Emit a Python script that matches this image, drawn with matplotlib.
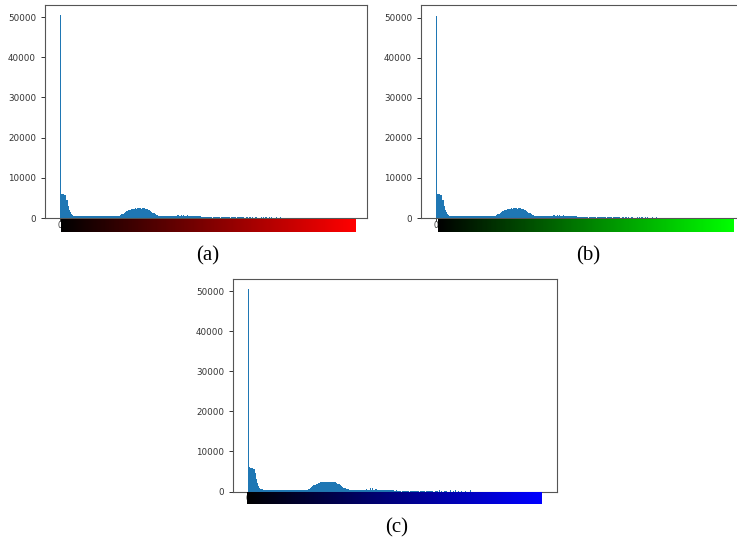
import matplotlib
matplotlib.use("Agg")
import matplotlib.pyplot as plt
import numpy as np
from matplotlib.colors import LinearSegmentedColormap

# pixel counts per intensity level (0..255)
pixel_counts = [
    50500, 6000, 5950, 5900, 5850, 5700, 4600, 3000, 2000, 1400, 900, 650, 500, 450, 430, 420,
    420, 410, 420, 400, 410, 420, 410, 400, 420, 410, 400, 410, 420, 410, 400, 410,
    420, 410, 400, 410, 420, 410, 400, 410, 420, 410, 420, 400, 410, 420, 410, 400,
    420, 430, 450, 480, 550, 700, 900, 1100, 1300, 1500, 1650, 1800, 1950, 2050, 2150, 2250,
    2300, 2350, 2400, 2350, 2400, 2450, 2400, 2350, 2400, 2450, 2400, 2350, 2250, 2100, 1950, 1750,
    1550, 1350, 1150, 950, 800, 650, 550, 500, 470, 450, 440, 430, 450, 440, 420, 430,
    440, 420, 430, 450, 420, 430, 440, 700, 450, 430, 800, 450, 750, 440, 420, 650,
    430, 410, 420, 400, 410, 420, 400, 390, 410, 400, 380, 390, 370, 300, 250, 240,
    230, 250, 220, 240, 230, 0, 220, 210, 230, 220, 200, 210, 0, 200, 220, 210,
    190, 200, 180, 200, 190, 0, 180, 190, 170, 180, 0, 170, 160, 180, 170, 160,
    150, 0, 0, 180, 150, 0, 300, 0, 160, 0, 0, 200, 150, 0, 0, 0,
    250, 0, 180, 0, 300, 0, 0, 150, 0, 200, 0, 0, 0, 180, 0, 0,
    0, 250, 0, 0, 0, 0, 0, 0, 0, 0, 0, 0, 0, 0, 0, 0,
    0, 0, 0, 0, 0, 0, 0, 0, 0, 0, 0, 0, 0, 0, 0, 0,
    0, 0, 0, 0, 0, 0, 0, 0, 0, 0, 0, 0, 0, 0, 0, 0,
    0, 0, 0, 0, 0, 0, 0, 0, 0, 0, 0, 0, 0, 0, 0, 0,
]
levels = np.arange(256)

panel_labels = ["(a)", "(b)", "(c)"]
channel_colors = ["#ff0000", "#00ff00", "#0000ff"]
y_ticks = [0, 10000, 20000, 30000, 40000, 50000]

W, H = 737, 540
fig = plt.figure(figsize=(W / 100, H / 100), dpi=100)

def px(left, top, right, bottom):
    return [left / W, 1 - bottom / H, (right - left) / W, (bottom - top) / H]

# (axes box, colour bar box, label position) in pixels
layout = [
    (px(45, 5, 367, 218), px(61, 219, 356, 232), (208, 256)),
    (px(421, 5.5, 743, 218), px(438, 219, 733, 232), (588, 256)),
    (px(233, 279, 557, 491.5), px(247, 492, 542, 503.5), (397, 528)),
]

grad = np.linspace(0, 1, 256).reshape(1, -1)

for (box, cbox, (lx, ly)), lab, col in zip(layout, panel_labels, channel_colors):
    ax = fig.add_axes(box)
    ax.hist(levels, bins=256, range=(0, 256), weights=pixel_counts, color="#1f77b4")
    ax.set_yticks(y_ticks)
    ax.tick_params(labelsize=6.3, colors="#333333", length=3, width=0.7)
    ax.set_xticks([0, 50, 100, 150, 200, 250])
    ax.tick_params(axis="x", pad=0, length=2, labelsize=5.5)
    for s in ax.spines.values():
        s.set_color("#555555")
        s.set_linewidth(0.8)

    # colour strip sits over the x tick labels, as in the original
    cax = fig.add_axes(cbox)
    cmap = LinearSegmentedColormap.from_list("ch", ["#000000", col])
    cax.imshow(grad, aspect="auto", cmap=cmap, interpolation="nearest")
    cax.set_axis_off()
    cax.set_zorder(5)

    fig.text(lx / W, 1 - ly / H, lab, ha="center", va="center",
             family="Liberation Serif", fontsize=15)

fig.savefig("out.png", dpi=100)
